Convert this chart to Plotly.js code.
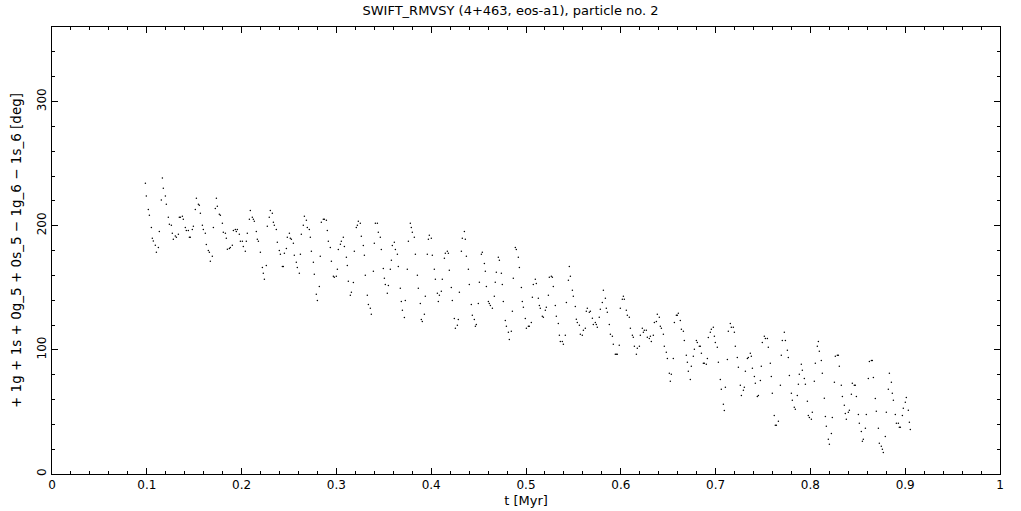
<!DOCTYPE html>
<html>
<head>
<meta charset="utf-8">
<script src="https://cdn.plot.ly/plotly-3.0.1.min.js"></script>
<style>html,body{margin:0;padding:0;background:#fff;}#plot{width:1021px;height:511px;}</style>
</head>
<body>
<div id="plot"></div>
<script>
// Time [Myr] of each sample
const tMyr = [
0.0985,0.0995,0.1016,0.1027,0.1048,0.1058,0.1069,0.1090,0.1101,0.1122,0.1132,0.1153,0.1164,0.1174,0.1196,0.1206,0.1227,0.1238,0.1259,0.1269,0.1280,0.1301,0.1312,0.1333,0.1343,0.1354,0.1375,0.1385,0.1406,0.1417,0.1438,0.1449,0.1459,0.1480,0.1491,0.1512,0.1523,0.1544,0.1554,0.1565,0.1586,0.1596,0.1617,0.1628,0.1649,0.1660,0.1670,0.1691,0.1702,0.1723,0.1734,0.1744,0.1765,0.1776,0.1797,0.1807,0.1829,0.1839,0.1850,0.1871,0.1881,0.1902,0.1913,0.1934,0.1944,0.1955,0.1976,0.1987,0.2008,0.2018,0.2039,0.2050,0.2060,0.2082,0.2092,0.2113,0.2124,0.2134,0.2155,0.2166,0.2177,0.2198,0.2219,0.2229,0.2240,0.2261,0.2271,0.2292,
0.2303,0.2324,0.2335,0.2345,0.2366,0.2377,0.2398,0.2409,0.2430,0.2440,0.2451,0.2472,0.2482,0.2504,0.2514,0.2525,0.2546,0.2556,0.2577,0.2588,0.2609,0.2620,0.2630,0.2651,0.2662,0.2683,0.2693,0.2714,0.2725,0.2736,0.2757,0.2767,0.2788,0.2799,0.2820,0.2830,0.2841,0.2862,0.2873,0.2894,0.2904,0.2915,0.2936,0.2947,0.2968,0.2978,0.2999,0.3010,0.3020,0.3042,0.3052,0.3073,0.3084,0.3105,0.3115,0.3126,0.3147,0.3158,0.3179,0.3189,0.3210,0.3221,0.3231,0.3252,0.3263,0.3284,0.3295,0.3305,0.3326,0.3337,0.3358,0.3368,0.3390,0.3400,0.3411,0.3432,0.3442,0.3463,0.3474,0.3495,0.3506,0.3516,0.3537,0.3548,0.3569,0.3580,0.3590,0.3611,0.3622,0.3643,0.3653,
0.3674,0.3685,0.3696,0.3717,0.3727,0.3748,0.3759,0.3780,0.3790,0.3801,0.3822,0.3833,0.3854,0.3864,0.3885,0.3896,0.3906,0.3928,0.3938,0.3959,0.3970,0.3980,0.4001,0.4012,0.4033,0.4044,0.4065,0.4075,0.4086,0.4107,0.4117,0.4139,0.4149,0.4170,0.4181,0.4191,0.4212,0.4223,0.4244,0.4255,0.4276,0.4286,0.4297,0.4318,0.4328,0.4350,0.4360,0.4371,0.4392,0.4402,0.4423,0.4434,0.4455,0.4466,0.4476,0.4497,0.4508,0.4529,0.4539,0.4561,0.4571,0.4582,0.4603,0.4613,0.4624,0.4645,0.4666,0.4676,0.4687,0.4708,0.4719,0.4740,0.4750,0.4761,0.4782,0.4793,0.4814,0.4824,0.4845,0.4856,0.4866,0.4887,0.4898,0.4919,0.4930,0.4951,0.4961,0.4972,0.4993,0.5004,0.5025,0.5035,
0.5056,0.5067,0.5077,0.5098,0.5109,0.5130,0.5141,0.5151,0.5172,0.5183,0.5204,0.5214,0.5236,0.5246,0.5267,0.5278,0.5288,0.5309,0.5320,0.5341,0.5352,0.5362,0.5383,0.5394,0.5415,0.5426,0.5447,0.5457,0.5468,0.5489,0.5499,0.5520,0.5531,0.5541,0.5563,0.5573,0.5594,0.5605,0.5626,0.5636,0.5647,0.5668,0.5679,0.5700,0.5710,0.5731,0.5742,0.5752,0.5773,0.5784,0.5805,0.5816,0.5837,0.5847,0.5858,0.5879,0.5890,0.5911,0.5921,0.5942,0.5953,0.5963,0.5984,0.5995,0.6016,0.6027,0.6037,0.6058,0.6069,0.6090,0.6101,0.6122,0.6132,0.6143,0.6164,0.6174,0.6196,0.6206,0.6227,0.6238,0.6248,0.6269,0.6280,0.6301,0.6312,0.6322,0.6343,0.6354,0.6375,0.6385,0.6406,
0.6417,0.6428,0.6449,0.6459,0.6480,0.6491,0.6512,0.6522,0.6533,0.6554,0.6565,0.6586,0.6596,0.6607,0.6628,0.6639,0.6660,0.6670,0.6691,0.6702,0.6712,0.6733,0.6744,0.6765,0.6776,0.6797,0.6807,0.6828,0.6839,0.6850,0.6871,0.6881,0.6902,0.6913,0.6923,0.6944,0.6955,0.6976,0.6987,0.6997,0.7018,0.7029,0.7050,0.7060,0.7082,0.7092,0.7103,0.7124,0.7134,0.7155,0.7166,0.7187,0.7198,0.7208,0.7229,0.7240,0.7261,0.7272,0.7293,0.7303,0.7314,0.7335,0.7345,0.7366,0.7377,0.7388,0.7409,0.7419,0.7440,0.7451,0.7472,0.7482,0.7493,0.7514,0.7525,0.7546,0.7556,0.7577,0.7588,0.7598,0.7619,0.7630,0.7641,0.7662,0.7683,0.7693,0.7704,0.7725,0.7736,0.7757,0.7767,0.7778,
0.7799,0.7809,0.7830,0.7841,0.7862,0.7873,0.7883,0.7904,0.7915,0.7936,0.7947,0.7968,0.7978,0.7989,0.8010,0.8020,0.8041,0.8052,0.8073,0.8084,0.8094,0.8115,0.8126,0.8147,0.8158,0.8168,0.8189,0.8200,0.8221,0.8231,0.8253,0.8263,0.8284,0.8295,0.8305,0.8326,0.8337,0.8358,0.8368,0.8379,0.8400,0.8411,0.8432,0.8442,0.8463,0.8474,0.8485,0.8506,0.8516,0.8537,0.8548,0.8558,0.8580,0.8590,0.8611,0.8622,0.8643,0.8653,0.8664,0.8685,0.8695,0.8717,0.8727,0.8748,0.8759,0.8769,0.8790,0.8801,0.8822,0.8833,0.8854,0.8864,0.8875,0.8896,0.8907,0.8928,0.8938,0.8949,0.8970,0.8980,0.9001,0.9012,0.9033,0.9044,0.9054
];
// Resonant angle [deg]
const angleDeg = [
234.1,223.9,213.1,208.3,198.6,189.8,187.6,184.2,178.5,182.5,195.4,220.7,238.4,230.1,223.9,217.2,206.7,201.1,200.3,193.8,189.0,191.7,190.6,193.0,206.7,206.7,207.5,205.1,198.6,196.2,196.2,190.6,190.6,197.0,199.5,213.1,222.0,217.2,216.4,209.9,200.3,197.0,193.8,184.9,180.1,178.5,171.3,175.3,198.6,213.9,222.0,215.6,209.1,208.3,201.9,194.6,193.8,189.8,181.0,181.7,182.5,184.2,196.2,197.0,195.4,197.0,193.0,187.4,187.4,183.3,179.3,187.4,193.8,205.1,212.3,206.7,205.1,203.5,195.4,189.0,187.4,178.5,166.4,161.6,156.8,168.0,199.5,206.7,
212.3,209.9,202.7,200.3,197.0,186.6,180.1,176.9,167.2,167.2,177.7,181.7,190.6,193.8,189.8,189.0,185.8,176.1,170.5,166.4,161.6,176.9,193.0,200.3,207.5,204.3,198.6,197.0,190.6,179.3,170.5,160.8,144.7,139.8,151.1,175.3,202.7,205.1,205.1,204.3,196.2,187.4,182.5,171.3,159.2,158.4,159.2,164.8,180.9,185.0,187.4,190.6,183.3,174.5,168.0,155.2,143.9,146.3,154.3,179.3,198.6,200.3,203.5,201.9,191.4,184.1,176.1,160.0,143.9,136.6,133.4,128.6,163.2,185.8,201.9,201.9,194.6,190.6,180.9,165.6,157.6,152.7,145.5,151.9,164.8,172.1,184.1,186.6,180.9,176.9,167.2,
149.5,139.0,131.8,126.1,139.8,164.8,187.4,201.9,198.6,194.6,190.6,176.9,160.0,149.5,137.4,124.5,122.9,128.6,143.1,176.9,189.0,192.2,189.8,176.1,164.8,156.8,145.5,139.0,143.9,147.1,156.8,173.7,177.7,179.3,177.7,164.0,150.3,139.8,125.3,117.3,119.7,124.5,146.3,179.3,189.8,195.4,189.0,175.3,164.8,152.7,136.6,127.8,124.5,118.9,120.5,137.4,154.4,176.9,178.5,169.6,163.2,151.1,139.0,137.4,135.8,133.4,143.1,154.4,162.4,174.5,172.1,161.6,152.7,139.0,123.7,118.9,114.1,108.4,114.9,131.0,157.6,182.5,180.9,174.5,166.4,150.3,139.0,134.2,125.3,117.3,118.9,118.9,
122.1,142.3,152.7,156.8,153.5,141.5,135.8,133.4,127.0,126.2,131.8,134.2,143.9,158.4,159.2,158.4,151.1,135.8,127.0,121.3,111.7,106.8,106.8,104.4,111.7,138.2,156.0,167.2,159.2,147.9,143.1,135.0,124.6,122.1,119.7,112.5,111.7,115.7,117.3,131.0,133.4,130.2,131.0,125.4,120.5,122.1,120.5,118.1,126.2,132.6,138.2,147.9,141.5,133.4,130.2,120.5,112.5,110.9,104.4,96.4,96.4,96.4,103.6,133.4,140.7,143.1,140.7,131.8,127.8,126.2,117.3,111.7,110.1,102.8,96.4,101.2,102.8,111.7,117.3,114.1,115.7,115.7,110.1,109.2,110.9,106.8,111.7,122.1,122.9,128.6,126.2,
118.9,117.3,112.5,102.8,98.0,93.1,81.1,74.6,80.3,93.1,122.1,127.8,127.8,129.4,123.7,116.5,114.9,107.6,95.6,89.9,82.7,76.2,86.7,94.8,100.4,107.6,106.0,102.8,102.8,97.2,89.1,89.1,88.3,93.1,110.0,114.1,116.5,118.1,110.9,106.0,102.0,89.9,76.2,68.2,56.1,51.2,69.8,92.3,114.9,121.3,118.1,118.1,114.1,102.8,93.9,85.9,71.4,63.3,67.4,69.8,82.7,93.1,93.9,97.2,94.8,85.1,78.6,73.0,62.5,63.3,75.4,86.7,106.0,110.9,109.2,109.2,102.0,89.1,78.6,65.0,47.2,39.2,39.2,42.4,71.4,95.6,107.6,114.1,107.6,99.6,93.9,79.4,
65.0,59.3,53.7,52.1,63.3,72.2,80.3,88.3,83.5,77.0,72.2,58.5,47.2,45.6,44.0,49.7,74.6,89.1,102.8,106.8,98.8,91.5,81.1,61.0,46.4,38.4,27.9,23.9,32.7,45.6,73.8,94.8,95.6,95.6,86.7,71.4,62.5,55.3,48.8,44.0,49.7,51.3,64.2,73.0,71.4,71.4,62.5,48.0,40.8,34.3,26.3,27.9,36.8,48.0,77.0,90.7,91.5,91.5,77.8,60.9,50.5,36.8,24.7,22.3,19.9,17.4,30.3,49.7,68.2,81.1,73.8,65.0,59.3,48.0,40.8,40.8,37.6,37.6,47.2,52.9,57.7,61.7,51.3,41.6,35.9
];
const xTickVals = [0,0.1,0.2,0.3,0.4,0.5,0.6,0.7,0.8,0.9,1];
const xTickText = ["0","0.1","0.2","0.3","0.4","0.5","0.6","0.7","0.8","0.9","1"];
const yTickVals = [0,100,200,300];
const yTickText = ["0","100","200","300"];

const tickFont = {family: "DejaVu Sans, sans-serif", size: 12, color: "#000"};
const titleFont = {family: "DejaVu Sans, sans-serif", size: 13, color: "#000"};
const yTitleFont = {family: "DejaVu Sans, sans-serif", size: 13.5, color: "#000"};
const axisCommon = {
  showgrid: false, zeroline: false, showline: true, linecolor: "#000", linewidth: 1,
  mirror: "allticks", ticks: "inside", ticklen: 6, tickwidth: 1, tickcolor: "#000",
  tickfont: tickFont, tickmode: "array"
};
const layout = {
  width: 1021, height: 511,
  margin: {l: 52, r: 21, t: 27, b: 37},
  paper_bgcolor: "#fff", plot_bgcolor: "#fff",
  showlegend: false,
  font: tickFont,
  title: {text: "SWIFT_RMVSY (4+463, eos-a1), particle no. 2", font: titleFont,
          x: 0.5, xanchor: "center", y: 0.979, yanchor: "middle", yref: "container"},
  xaxis: Object.assign({}, axisCommon, {
    range: [0, 1], tickvals: xTickVals, ticktext: xTickText,
    minor: {dtick: 0.02, tick0: 0, ticks: "inside", ticklen: 3, tickcolor: "#000", tickwidth: 1},
    title: {text: "t [Myr]", font: titleFont, standoff: 4}
  }),
  yaxis: Object.assign({}, axisCommon, {
    range: [0, 360], tickvals: yTickVals, ticktext: yTickText, tickangle: -90,
    minor: {dtick: 20, tick0: 0, ticks: "inside", ticklen: 3, tickcolor: "#000", tickwidth: 1},
    title: {text: "+ 1g + 1s + 0g_5 + 0s_5 − 1g_6 − 1s_6 [deg]", font: yTitleFont, standoff: 10}
  })
};
const trace = {
  type: "scatter", mode: "markers", x: tMyr, y: angleDeg,
  marker: {size: 1.5, color: "#000", line: {width: 0}},
  hoverinfo: "skip", cliponaxis: true
};
Plotly.newPlot("plot", [trace], layout, {staticPlot: true, displayModeBar: false});
</script>
</body>
</html>
